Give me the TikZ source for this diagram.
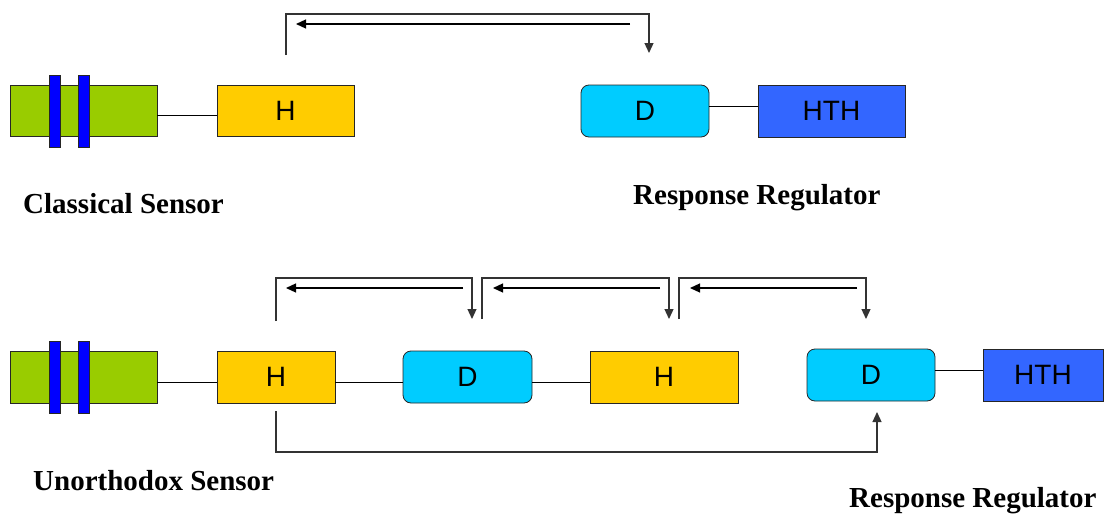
\documentclass[tikz,border=0pt]{standalone}
\usepackage{fontspec}
\setmainfont{Liberation Serif}
\newfontfamily\arialfont{Liberation Sans}
\usetikzlibrary{arrows.meta}
\definecolor{memgreen}{HTML}{99CC00}
\definecolor{hyel}{HTML}{FFCC00}
\definecolor{dcyan}{HTML}{00CCFF}
\definecolor{hthblue}{HTML}{3366FF}
\definecolor{barblue}{HTML}{0000FF}
\begin{document}
\begin{tikzpicture}[x=1pt,y=-1pt,
  box/.style={draw=black!85, line width=0.8pt, inner sep=0pt, anchor=center,
    font=\arialfont\fontsize{28}{28}\selectfont},
  mem/.style={box, fill=memgreen},
  bar/.style={box, fill=barblue, minimum width=11pt, minimum height=72pt},
  hbox/.style={box, fill=hyel},
  dbox/.style={box, fill=dcyan, rounded corners=8pt},
  hth/.style={box, fill=hthblue},
  link/.style={line width=0.9pt, black},
  arr/.style={line width=1.2pt, black, -{Triangle[length=10pt,width=9pt]}},
  bline/.style={line width=1.2pt, black!80},
  lbl/.style={font=\fontsize{29}{29}\selectfont\bfseries, anchor=base west, inner sep=0pt}
]
\useasboundingbox (0,0) rectangle (1106,514);

% ---------- top row ----------
\node[mem, minimum width=147pt, minimum height=51pt] (G1) at (83.5,110.5) {};
\node[bar] (b1a) at (54.5,111) {};
\node[bar] (b1b) at (84,111) {};
\node[hbox, minimum width=137pt, minimum height=51pt] (H) at (285.5,110.5) {H};
\node[dbox, minimum width=128pt, minimum height=52pt] (D) at (645,111) {D};
\node[hth, minimum width=147pt, minimum height=52pt] (HTH) at (831.5,111) {HTH};

\draw[link] ([yshift=-5pt]G1.east) -- ([yshift=-5pt]H.west);
\draw[link] ([yshift=5pt]D.east) -- ([yshift=5pt]HTH.west);

\coordinate (t1s) at (286,55);
\coordinate (t1e) at (649,53);
\draw[bline,-{Triangle[length=10pt,width=9pt]}] (t1s) -- ++(0,-41) -| (t1e);
\coordinate (t1a) at (630,24);
\coordinate (t1b) at (296,24);
\draw[arr] (t1a) -- (t1b);

\node[lbl] (cs) at (23,213) {Classical Sensor};
\node[lbl] (rr1) at (633,204) {Response Regulator};

% ---------- bottom row ----------
\node[mem, minimum width=147pt, minimum height=52pt] (G2) at (83.5,377) {};
\node[bar] (b2a) at (54.5,377) {};
\node[bar] (b2b) at (84,377) {};
\node[hbox, minimum width=118pt, minimum height=52pt] (H1) at (276,377) {H};
\node[dbox, minimum width=129pt, minimum height=52pt] (D1) at (467.5,377) {D};
\node[hbox, minimum width=148pt, minimum height=52pt] (H2) at (664,377) {H};
\node[dbox, minimum width=128pt, minimum height=52pt] (D2) at (871,375) {D};
\node[hth, minimum width=120pt, minimum height=52pt] (HTH2) at (1043,375) {HTH};

\draw[link] ([yshift=-5pt]G2.east) -- ([yshift=-5pt]H1.west);
\draw[link] ([yshift=-5pt]H1.east) -- ([yshift=-5pt]D1.west);
\draw[link] ([yshift=-5pt]D1.east) -- ([yshift=-5pt]H2.west);
\draw[link] ([yshift=5pt]D2.east) -- ([yshift=5pt]HTH2.west);

% brackets
\coordinate (p1s) at (276,321);
\coordinate (p1e) at (472,319);
\draw[bline,-{Triangle[length=10pt,width=9pt]}] (p1s) -- ++(0,-43) -| (p1e);
\coordinate (p1a) at (463,288);
\coordinate (p1b) at (286,288);
\draw[arr] (p1a) -- (p1b);

\coordinate (p2s) at (482,319);
\coordinate (p2e) at (669,319);
\draw[bline,-{Triangle[length=10pt,width=9pt]}] (p2s) -- ++(0,-41) -| (p2e);
\coordinate (p2a) at (660,288);
\coordinate (p2b) at (493,288);
\draw[arr] (p2a) -- (p2b);

\coordinate (p3s) at (679,319);
\coordinate (p3e) at (866,319);
\draw[bline,-{Triangle[length=10pt,width=9pt]}] (p3s) -- ++(0,-41) -| (p3e);
\coordinate (p3a) at (857,288);
\coordinate (p3b) at (690,288);
\draw[arr] (p3a) -- (p3b);

% bottom loop
\coordinate (ls) at (276,411);
\coordinate (le) at (877,412);
\draw[bline,-{Triangle[length=10pt,width=9pt]}] (ls) -- (276,452) -| (le);

\node[lbl] (us) at (33,490) {Unorthodox Sensor};
\node[lbl] (rr2) at (849,507) {Response Regulator};
\end{tikzpicture}
\end{document}
